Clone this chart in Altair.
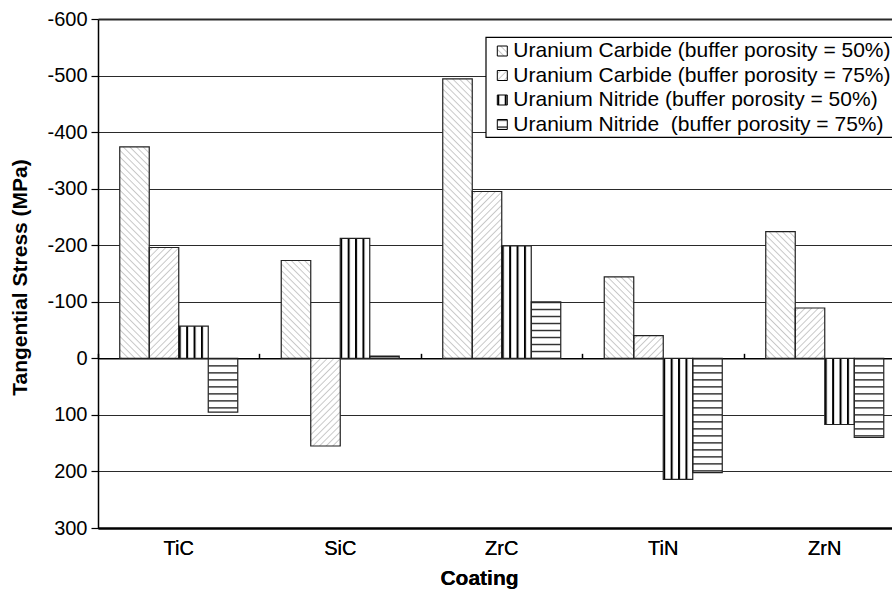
import base64
import altair as alt
import pandas as pd

# ---------------- data ----------------
coatings = ["TiC", "SiC", "ZrC", "TiN", "ZrN"]
series = [
    "Uranium Carbide (buffer porosity = 50%)",
    "Uranium Carbide (buffer porosity = 75%)",
    "Uranium Nitride (buffer porosity = 50%)",
    "Uranium Nitride\u00a0 (buffer porosity = 75%)",
]
uc_50 = [-374, -173, -494, -144, -224]
uc_75 = [-196, 155, -295, -40, -89]
un_50 = [-57, -212, -199, 214, 117]
un_75 = [95, -4, -100, 202, 140]
y_ticks = [-600, -500, -400, -300, -200, -100, 0, 100, 200, 300]

values_by_series = [uc_50, uc_75, un_50, un_75]
rows = []
for ci, c in enumerate(coatings):
    for k, (s, vals) in enumerate(zip(series, values_by_series)):
        rows.append({"coating": c, "series": s, "k": k, "value": vals[ci]})
df = pd.DataFrame(rows)
legend_df = pd.DataFrame({"series": series, "k": list(range(len(series)))})

# ---------------- hatch patterns (SVG images, drawn at 1px per unit) ----------------
def pattern_url(inner, w, h, transform=""):
    svg = (
        '<svg xmlns="http://www.w3.org/2000/svg"><defs>'
        f'<pattern id="p" patternUnits="userSpaceOnUse" width="{w}" height="{h}" {transform}>'
        f"{inner}</pattern></defs>"
        '<rect x="0" y="0" width="100%" height="100%" fill="url(#p)"/></svg>'
    )
    return "data:image/svg+xml;base64," + base64.b64encode(svg.encode()).decode()

diag_line = '<line x1="2.35" y1="-1" x2="2.35" y2="6" stroke="#bcbcbc" stroke-width="0.8"/>'
urls = [
    pattern_url(diag_line, 4.7, 4.7, 'patternTransform="rotate(-45)"'),
    pattern_url(diag_line, 4.7, 4.7, 'patternTransform="rotate(45)"'),
    pattern_url('<rect x="0" y="0" width="2" height="10" fill="#000"/>', 7.4, 10),
    pattern_url('<rect x="0" y="0" width="10" height="1.2" fill="#000"/>', 10, 7),
]
url_expr = "[" + ",".join(f"'{u}'" for u in urls) + "][datum.k]"

FONT = "Liberation Sans"
PLOT_W_FULL = 807.5   # full category range (extends past the right edge, clipped)
H = 509
zero_px = H * 600 / 900

xscale = alt.Scale(domain=coatings, paddingInner=0, paddingOuter=0, range=[0, PLOT_W_FULL])
offscale = alt.Scale(domain=series, paddingInner=0, paddingOuter=0.737)
yscale = alt.Scale(domain=[-600, 300], reverse=True, nice=False, zero=False)

bottom_axis = alt.Axis(
    orient="bottom", title="Coating", labelAngle=0, ticks=False,
    domainColor="#000", domainWidth=2, labelFontSize=20, labelColor="#000",
    labelFontWeight="normal",
    labelPadding=10, labelFont=FONT, titleFont=FONT, titleFontSize=21,
    titleFontWeight="bold", titleColor="#000", titleX=381, titleY=50,
    titleBaseline="middle",
)
zero_axis = alt.Axis(
    orient="top", offset=-zero_px, labels=False, title=None, ticks=True,
    tickSize=5, tickColor="#000", tickWidth=1.5, bandPosition=0,
    domainColor="#000", domainWidth=1.5, grid=False,
)
y_axis = alt.Axis(
    values=y_ticks, title="Tangential Stress (MPa)", grid=True,
    labelExpr="'' + datum.value",
    gridColor="#2a2a2a",
    gridWidth={"condition": {"test": "datum.value === -600", "value": 2.2}, "value": 1.1},
    domainColor="#000", domainWidth=1.5, tickColor="#000", tickSize=7,
    tickWidth=1.2, labelFontSize=20, labelColor="#000", labelPadding=4,
    labelFontWeight="normal",
    labelFont=FONT, titleFont=FONT, titleFontSize=21, titleFontWeight="bold",
    titleColor="#000", titleX=-78, titleY=258, titleBaseline="middle",
)

base = alt.Chart(df).transform_calculate(zero="0", url=url_expr).encode(
    x=alt.X("coating:N", scale=xscale, sort=coatings, axis=bottom_axis),
    xOffset=alt.XOffset("series:N", scale=offscale, sort=series),
    y=alt.Y("value:Q", scale=yscale, axis=y_axis, stack=None),
    y2=alt.Y2("zero:Q"),
)

bars_bg = base.mark_bar(color="white")
hatch = base.mark_image(aspect=False).encode(url=alt.Url("url:N"))
outline = base.mark_bar(
    fill="white", fillOpacity=0, stroke="#222", strokeWidth=1.2
).encode(
    x=alt.X("coating:N", scale=xscale, sort=coatings, axis=zero_axis),
)

main = alt.layer(bars_bg, hatch, outline)

# ---------------- legend ----------------
leg_y = alt.Y(
    "series:N",
    scale=alt.Scale(domain=series, type="point", padding=0, range=[32, 105.5]),
    axis=None,
)

leg_box = alt.Chart(pd.DataFrame({"a": [0]})).mark_rect(
    fill="white", stroke="#000", strokeWidth=1.2
).encode(
    x=alt.value(388), x2=alt.value(820), y=alt.value(18.3), y2=alt.value(118.3)
)
leg_base = alt.Chart(legend_df).transform_calculate(url=url_expr)
leg_img = leg_base.mark_image(
    width=10, height=10, aspect=False, align="center", baseline="middle"
).encode(x=alt.value(404.3), y=leg_y, url=alt.Url("url:N"))
leg_sq = leg_base.mark_point(
    shape="square", size=100, filled=False, stroke="#000", strokeWidth=1, opacity=1
).encode(x=alt.value(404.3), y=leg_y)
leg_text = leg_base.mark_text(
    align="left", baseline="middle", fontSize=21, font=FONT, color="#000"
).encode(x=alt.value(415.3), y=leg_y, text="series:N")

legend = alt.layer(leg_box, leg_img, leg_sq, leg_text)

chart = (
    alt.layer(main, legend)
    .resolve_scale(y="independent")
    .properties(
        width=794,
        height=H,
        autosize=alt.AutoSizeParams(type="none"),
        padding={"left": 98, "top": 19, "right": 0, "bottom": 62},
        background="white",
    )
    .configure_view(strokeWidth=0)
    .configure(font=FONT)
)

chart.save("out.html", embed_options={"renderer": "svg", "actions": False})
